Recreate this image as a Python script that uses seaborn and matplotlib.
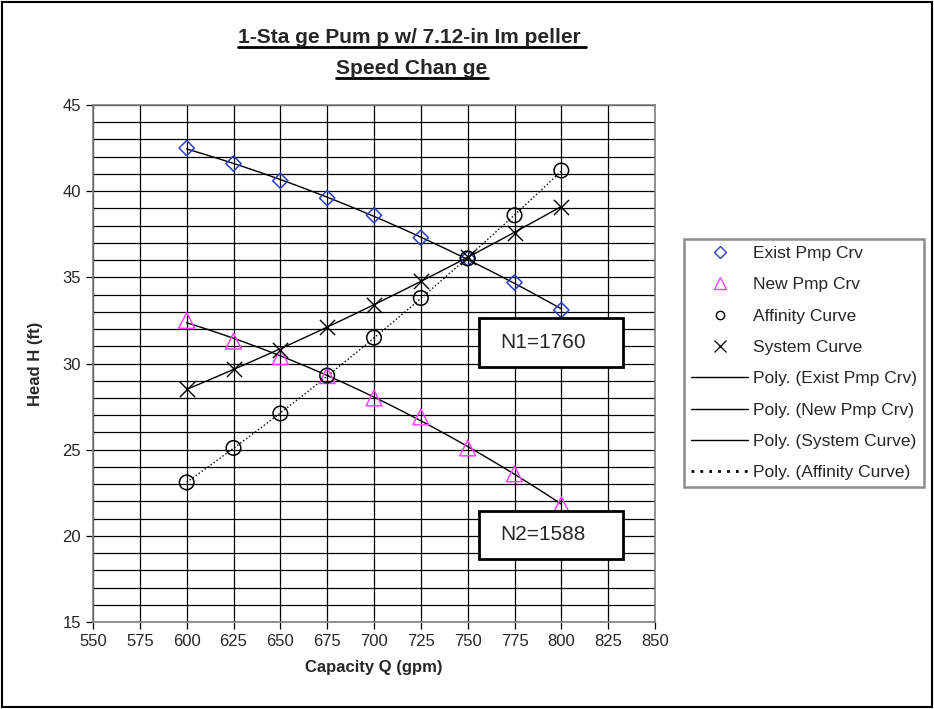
import numpy as np
import pandas as pd
import matplotlib
matplotlib.use("Agg")
import matplotlib.pyplot as plt
from matplotlib.lines import Line2D
from matplotlib.patches import Rectangle
import seaborn as sns

# ---- data ----
capacity = [600, 625, 650, 675, 700, 725, 750, 775, 800]
exist_pmp = [42.5, 41.6, 40.6, 39.6, 38.6, 37.3, 36.1, 34.7, 33.1]
new_pmp = [32.5, 31.3, 30.4, 29.3, 28.0, 26.9, 25.1, 23.6, 21.8]
affinity = [23.1, 25.1, 27.1, 29.3, 31.5, 33.8, 36.1, 38.6, 41.2]
system = [28.5, 29.7, 30.8, 32.1, 33.4, 34.8, 36.2, 37.6, 39.1]
x_ticks = [550, 575, 600, 625, 650, 675, 700, 725, 750, 775, 800, 825, 850]
y_ticks = [15, 20, 25, 30, 35, 40, 45]
title_1 = "1-Sta ge Pum p w/ 7.12-in Im peller "
title_2 = "Speed Chan ge"
n1_label = "N1=1760"
n2_label = "N2=1588"

df = pd.DataFrame({"Q": capacity, "Exist": exist_pmp, "New": new_pmp,
                   "Affinity": affinity, "System": system})

sns.set_style("white")
plt.rcParams["font.family"] = ["Liberation Sans", "DejaVu Sans"]

W, H = 934, 709
fig = plt.figure(figsize=(W / 100, H / 100), dpi=100)
ax_l, ax_r, ax_t, ax_b = 93, 655, 105, 622
ax = fig.add_axes([ax_l / W, 1 - ax_b / H, (ax_r - ax_l) / W, (ax_b - ax_t) / H])

blue = "#2B3FBF"
magenta = "#FF44FF"

# grid
ax.set_xlim(550, 850)
ax.set_ylim(15, 45)
ax.set_xticks(x_ticks)
ax.set_yticks(y_ticks)
ax.set_yticks(np.arange(15, 46, 1), minor=True)
ax.grid(True, which="major", axis="both", color="black", lw=0.9)
ax.grid(True, which="minor", axis="y", color="black", lw=0.9)
ax.set_axisbelow(True)

# trendlines (2nd order polynomial)
for col, ls in [("Exist", "-"), ("New", "-"), ("System", "-"), ("Affinity", ":")]:
    sns.regplot(data=df, x="Q", y=col, order=2, ci=None, scatter=False, ax=ax,
                color="black", line_kws=dict(lw=1.0, ls=ls))

# markers
sns.scatterplot(data=df, x="Q", y="Exist", marker="D", s=60, facecolor="none",
                edgecolor=blue, linewidth=1.1, ax=ax, zorder=5)
sns.scatterplot(data=df, x="Q", y="New", marker="^", s=130, facecolor="none",
                edgecolor=magenta, linewidth=1.1, ax=ax, zorder=5)
sns.scatterplot(data=df, x="Q", y="Affinity", marker="o", s=110, facecolor="none",
                edgecolor="black", linewidth=1.1, ax=ax, zorder=5)
sns.scatterplot(data=df, x="Q", y="System", marker="x", s=120, color="black",
                linewidth=1.0, ax=ax, zorder=5)

ax.set_xlim(550, 850)
ax.set_ylim(15, 45)

for s in ax.spines.values():
    s.set_color("#808080")
    s.set_linewidth(1.2)
ax.tick_params(axis="both", which="major", length=5, width=0.9, color="black",
               labelsize=12, direction="out", bottom=True, left=True)
ax.tick_params(axis="both", which="minor", length=0)
ax.set_xlabel("Capacity Q (gpm)", fontsize=12, fontweight="bold", labelpad=8)
ax.set_ylabel("Head H (ft)", fontsize=12, fontweight="bold", labelpad=14)

# N boxes
def nbox(y0, y1, label):
    x0 = (479 - ax_l) / (ax_r - ax_l)
    x1 = (623 - ax_l) / (ax_r - ax_l)
    ax.add_patch(Rectangle((x0, y0), x1 - x0, y1 - y0, transform=ax.transAxes,
                           facecolor="white", edgecolor="black", lw=2, zorder=6,
                           clip_on=False))
    ax.text((500 - ax_l) / (ax_r - ax_l), (y0 + y1) / 2, label, transform=ax.transAxes,
            fontsize=15, va="center", ha="left", zorder=7)

fy = lambda p: (ax_b - p) / (ax_b - ax_t)
nbox(fy(367), fy(318), n1_label)
nbox(fy(559), fy(511), n2_label)

# legend
handles = [
    Line2D([], [], ls="none", marker="D", ms=6, mfc="none", mec=blue, mew=1),
    Line2D([], [], ls="none", marker="^", ms=9, mfc="none", mec=magenta, mew=1),
    Line2D([], [], ls="none", marker="o", ms=6, mfc="none", mec="black", mew=1),
    Line2D([], [], ls="none", marker="x", ms=8, color="black", mew=0.9),
    Line2D([], [], color="black", lw=1),
    Line2D([], [], color="black", lw=1),
    Line2D([], [], color="black", lw=1),
    Line2D([], [], color="black", lw=2, ls=(0, (1, 2.2))),
]
labels = ["Exist Pmp Crv", "New Pmp Crv", "Affinity Curve", "System Curve",
          "Poly. (Exist Pmp Crv)", "Poly. (New Pmp Crv)", "Poly. (System Curve)",
          "Poly. (Affinity Curve)"]
leg = fig.legend(handles, labels, loc="upper left",
                 bbox_to_anchor=(684 / W, 1 - 239 / H), bbox_transform=fig.transFigure,
                 fontsize=12.5, frameon=True, fancybox=False, handlelength=3.3,
                 handletextpad=0.3, labelspacing=0.93, borderpad=0.4,
                 borderaxespad=0, edgecolor="#707070")
leg.get_frame().set_linewidth(1.8)

# title
t1 = fig.text(412 / W, 1 - 43.3 / H, title_1, ha="center", va="baseline",
              fontsize=15, fontweight="bold")
t2 = fig.text(412 / W, 1 - 74.3 / H, title_2, ha="center", va="baseline",
              fontsize=15, fontweight="bold")
fig.canvas.draw()
r = fig.canvas.get_renderer()
for t, uy in [(t1, 46.7), (t2, 78)]:
    bb = t.get_window_extent(r)
    fig.add_artist(Line2D([bb.x0 / W, bb.x1 / W], [1 - uy / H, 1 - uy / H],
                          transform=fig.transFigure, color="black", lw=2))

# outer border
fig.add_artist(Rectangle((2 / W, 2 / H), (W - 4) / W, (H - 4) / H,
                         transform=fig.transFigure, fill=False, edgecolor="black", lw=1.5))

fig.savefig("out.png", dpi=100)
